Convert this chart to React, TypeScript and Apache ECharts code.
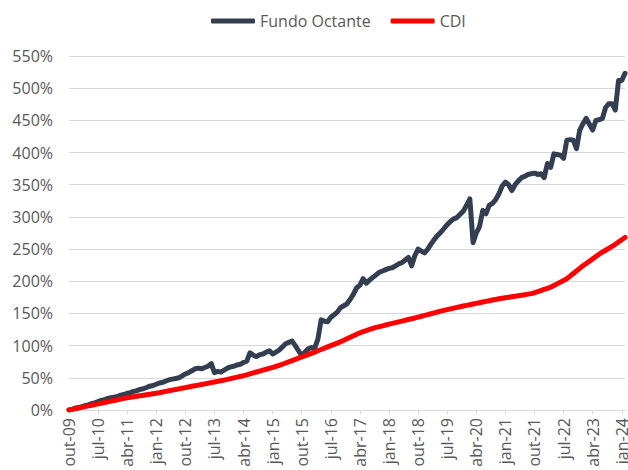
import React, { useEffect, useRef } from "react";
import * as echarts from "echarts";

const monthNames = ["jan", "fev", "mar", "abr", "mai", "jun", "jul", "ago", "set", "out", "nov", "dez"];
const startYear = 2009;
const startMonth = 9; // out
const monthCount = 173; // out-09 .. fev-24

const categories: string[] = [];
for (let i = 0; i < monthCount; i++) {
  const mi = (startMonth + i) % 12;
  const y = startYear + Math.floor((startMonth + i) / 12);
  categories.push(`${monthNames[mi]}-${String(y % 100).padStart(2, "0")}`);
}

const seriesNames = ["Fundo Octante", "CDI"];

const fundoOctante = [
  0, 1, 3, 4, 5, 7, 8, 10, 11, 13,
  15, 16, 18, 19, 20, 21, 23, 24, 26, 27,
  29, 30, 32, 33, 35, 37, 38, 40, 42, 43,
  45, 47, 48, 49, 50, 53, 56, 58, 61, 64,
  65, 64, 66, 68, 72, 58, 60, 59, 62, 65,
  67, 68, 70, 71, 74, 76, 89, 85, 83, 86,
  87, 90, 92, 87, 90, 93, 98, 103, 105, 107,
  100, 92, 84, 90, 95, 97, 96, 110, 140, 138,
  137, 144, 148, 152, 159, 162, 165, 172, 180, 190,
  194, 204, 197, 202, 206, 210, 214, 216, 218, 220,
  221, 224, 227, 229, 233, 237, 224, 240, 250, 247,
  244, 250, 258, 265, 271, 276, 282, 288, 293, 297,
  299, 304, 309, 318, 328, 260, 275, 285, 310, 305,
  318, 321, 327, 336, 348, 354, 350, 341, 350, 356,
  361, 363, 366, 367, 368, 366, 367, 361, 383, 377,
  398, 397, 396, 391, 419, 420, 419, 406, 435, 445,
  453, 444, 435, 450, 451, 453, 470, 476, 476, 466,
  512, 512, 523,
];

const cdi = [
  0, 1, 2.1, 3.2, 4.3, 5.3, 6.4, 7.4, 8.5, 9.6,
  10.6, 11.7, 12.7, 13.8, 14.8, 15.9, 16.9, 18, 19, 19.8,
  20.6, 21.4, 22.1, 22.9, 23.7, 24.5, 25.3, 26.1, 26.9, 27.9,
  28.9, 29.9, 30.9, 31.8, 32.8, 33.8, 34.8, 35.8, 36.8, 37.7,
  38.7, 39.6, 40.6, 41.5, 42.5, 43.4, 44.4, 45.4, 46.5, 47.6,
  48.8, 49.9, 51, 52.2, 53.3, 54.7, 56.2, 57.6, 59, 60.5,
  61.9, 63.3, 64.8, 66.2, 67.6, 69.3, 71.1, 73, 74.9, 76.8,
  78.6, 80.5, 82.4, 84.2, 86.1, 88, 90, 92, 94, 96,
  98, 100, 102, 104, 106, 108.2, 110.6, 113, 115.4, 117.8,
  120, 121.7, 123.4, 125.1, 126.8, 128.4, 129.6, 130.8, 132, 133.3,
  134.5, 135.7, 136.9, 138.2, 139.4, 140.6, 141.8, 143, 144.4, 145.7,
  147, 148.3, 149.6, 150.9, 152.2, 153.5, 154.8, 156, 157.2, 158.3,
  159.4, 160.4, 161.5, 162.5, 163.5, 164.6, 165.6, 166.7, 167.7, 168.7,
  169.8, 170.8, 171.8, 172.8, 173.6, 174.4, 175.2, 176, 176.8, 177.6,
  178.4, 179.2, 180, 180.8, 182.2, 183.9, 185.6, 187.3, 189, 190.8,
  193.4, 196, 198.7, 201.3, 204, 208, 212, 216, 220, 224,
  227.6, 231.2, 234.8, 238.4, 242, 245.1, 248.2, 251.3, 254.4, 257.5,
  261, 264.5, 268,
];

const yMin = 0;
const yMax = 550;
const yStep = 50;

const FONT = "'Open Sans', 'Noto Sans', sans-serif";
const TEXT = "#595959";
const GRID = "#D9D9D9";

export default function App() {
  const ref = useRef<HTMLDivElement>(null);
  useEffect(() => {
    if (!ref.current) return;
    const chart = echarts.init(ref.current, undefined, { renderer: "svg" });
    chart.setOption({
      animation: false,
      backgroundColor: "#ffffff",
      textStyle: { fontFamily: FONT },
      legend: {
        left: 206,
        top: 8,
        itemWidth: 44,
        itemHeight: 5,
        itemGap: 20,
        icon: "roundRect",
        textStyle: { fontSize: 16, color: TEXT, fontFamily: FONT },
        data: seriesNames,
      },
      grid: {
        left: 69,
        right: 3,
        top: 56,
        bottom: 60,
        containLabel: false,
        outerBoundsMode: "none",
      },
      xAxis: {
        type: "category",
        boundaryGap: false,
        data: categories,
        axisLine: { show: true, lineStyle: { color: GRID, width: 1 } },
        axisTick: { show: true, interval: 8, length: 4, lineStyle: { color: GRID } },
        axisLabel: {
          interval: 8,
          rotate: 90,
          fontSize: 16,
          color: TEXT,
          fontFamily: FONT,
          margin: 8,
          hideOverlap: false,
        },
        splitLine: { show: false },
      },
      yAxis: {
        type: "value",
        min: yMin,
        max: yMax,
        interval: yStep,
        axisLine: { show: false },
        axisTick: { show: false },
        axisLabel: {
          formatter: "{value}%",
          fontSize: 16,
          color: TEXT,
          fontFamily: FONT,
          margin: 16,
        },
        splitLine: { lineStyle: { color: GRID, width: 1 } },
      },
      series: [
        {
          name: seriesNames[0],
          type: "line",
          data: fundoOctante,
          showSymbol: false,
          symbol: "none",
          color: "#333F50",
          lineStyle: { width: 5, color: "#333F50", join: "round", cap: "round" },
        },
        {
          name: seriesNames[1],
          type: "line",
          data: cdi,
          showSymbol: false,
          symbol: "none",
          color: "#FF0000",
          lineStyle: { width: 5, color: "#FF0000", join: "round", cap: "round" },
        },
      ],
    });
    return () => chart.dispose();
  }, []);
  return (
    <div
      ref={ref}
      style={{ position: "absolute", left: 0, top: 0, width: 628, height: 470 }}
    />
  );
}
